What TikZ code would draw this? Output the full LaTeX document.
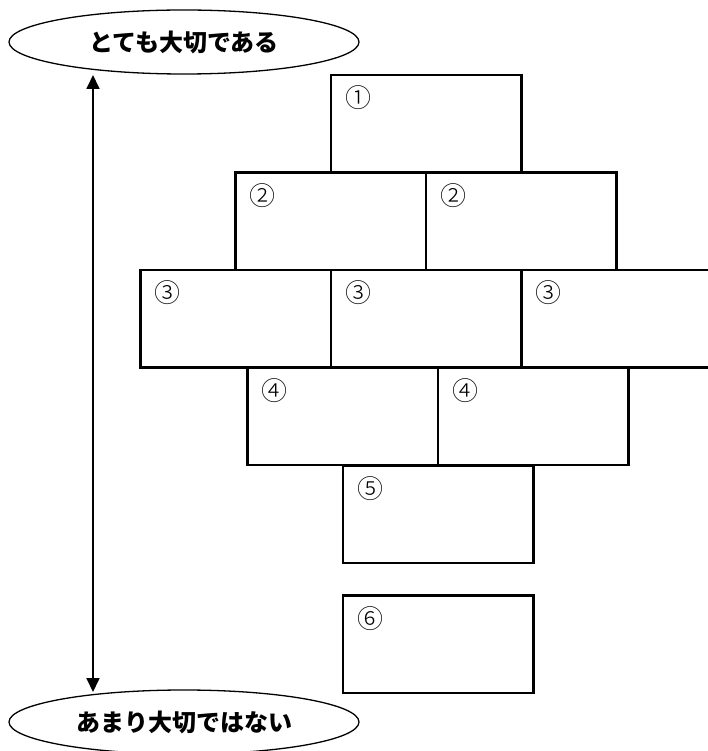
\documentclass[tikz,border=0pt]{standalone}
\usepackage{fontspec}
\newfontfamily\popfont{Noto Sans CJK JP}[UprightFont={* Black}]
\newfontfamily\numfont{Noto Sans CJK JP}[UprightFont={* Light}]
\usetikzlibrary{positioning,shapes.geometric,arrows.meta}

\begin{document}
\begin{tikzpicture}[x=1pt, y=-1pt,
    blk/.style={draw, line width=2.8pt, minimum width=190.5pt, minimum height=97.5pt,
                inner sep=0pt, outer sep=0pt},
    num/.style={anchor=center, xshift=27pt, yshift=-23pt, inner sep=0pt,
                font=\numfont\fontsize{26}{28}\selectfont},
    oval/.style={draw, ellipse, line width=1.3pt, minimum width=350pt, minimum height=64pt,
                 inner sep=0pt, font=\popfont\fontsize{24}{28}\selectfont},
    rank/.style={{Triangle[length=14pt,width=13pt]}-{Triangle[length=14pt,width=13pt]},
                 line width=1.8pt},
  ]
  \useasboundingbox (0,0) rectangle (707,751);

  % the two ends of the scale
  \node[oval] (high) at (184,42)  {とても大切である};
  \node[oval] (low)  at (184,722) {あまり大切ではない};
  \coordinate (hi) at (93,75);
  \coordinate (lo) at (93,692);
  \draw[rank] (hi) -- (lo);

  % the pyramid of boxes, row by row
  \node[blk, anchor=north west, label={[num]north west:①}] (one) at (331,75) {};

  \node[blk, anchor=north west, label={[num]north west:②}] (twoA) at (235.5,172.5) {};
  \node[blk, right=0pt of twoA, label={[num]north west:②}] (twoB) {};

  \node[blk, anchor=north west, label={[num]north west:③}] (threeA) at (140.5,270) {};
  \node[blk, right=0pt of threeA, label={[num]north west:③}] (threeB) {};
  \node[blk, right=0pt of threeB, label={[num]north west:③}] (threeC) {};

  \node[blk, anchor=north west, label={[num]north west:④}] (fourA) at (247.5,367.5) {};
  \node[blk, right=0pt of fourA, label={[num]north west:④}] (fourB) {};

  \node[blk, anchor=north west, label={[num]north west:⑤}] (five) at (343,465.5) {};

  \node[blk, anchor=north west, label={[num]north west:⑥}] (six) at (343,595.5) {};
\end{tikzpicture}
\end{document}
